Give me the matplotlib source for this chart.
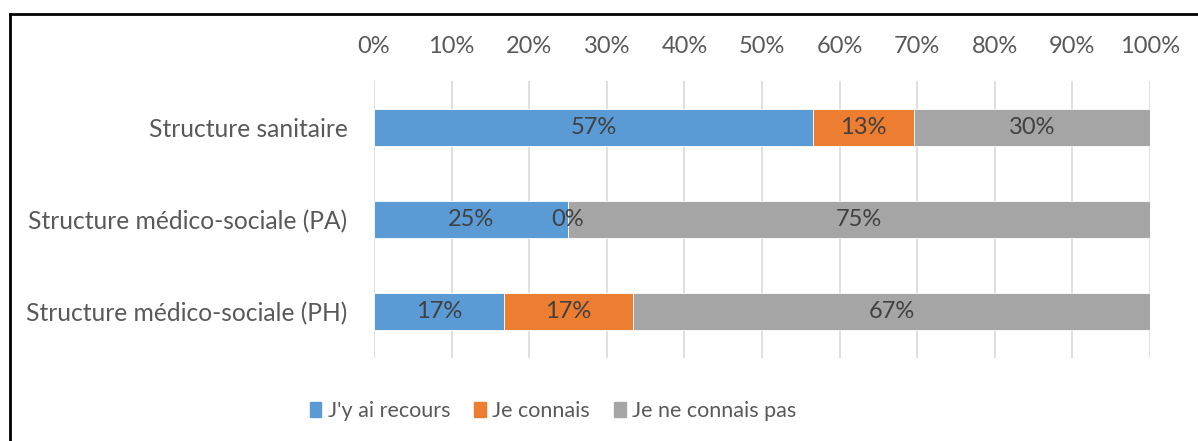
import matplotlib.pyplot as plt
from matplotlib.lines import Line2D

# Parts de réponses par type de structure (fractions)
categories = ["Structure sanitaire",
              "Structure médico-sociale (PA)",
              "Structure médico-sociale (PH)"]
series_names = ["J'y ai recours", "Je connais", "Je ne connais pas"]
recours = [0.566, 0.25, 0.167]
connais = [0.130, 0.0, 0.167]
connais_pas = [0.304, 0.75, 0.666]
ticks = [i / 10 for i in range(11)]

colors = ["#5B9BD5", "#ED7D31", "#A5A5A5"]

plt.rcParams["font.family"] = ["Lato", "DejaVu Sans"]

fig = plt.figure(figsize=(11.98, 4.41), dpi=100)
ax = fig.add_axes([374 / 1198, 1 - 358 / 441, 776 / 1198, 277 / 441])

pos = list(range(len(categories)))
left = [0.0] * len(categories)
for name, vals, col in zip(series_names, [recours, connais, connais_pas], colors):
    bars = ax.barh(pos, vals, left=left, height=0.4, color=col,
                   edgecolor="white", linewidth=0.6, label=name, zorder=3)
    for b, v in zip(bars, vals):
        ax.text(b.get_x() + b.get_width() / 2, b.get_y() + b.get_height() / 2,
                f"{v:.0%}", ha="center", va="center", fontsize=17,
                color="#404040", zorder=4)
    left = [l + v for l, v in zip(left, vals)]

ax.set_xlim(0, 1)
ax.set_ylim(2.5, -0.5)
ax.set_xticks(ticks)
ax.set_xticklabels([f"{t:.0%}" for t in ticks])
ax.set_yticks(pos)
ax.set_yticklabels(categories)
ax.xaxis.tick_top()
ax.tick_params(axis="x", length=0, pad=17, labelsize=17, labelcolor="#595959")
ax.tick_params(axis="y", length=0, pad=19, labelsize=17.7, labelcolor="#595959")
ax.grid(axis="x", color="#D9D9D9", linewidth=1.2, zorder=0)
for s in ax.spines.values():
    s.set_visible(False)

handles = [plt.Rectangle((0, 0), 1, 1, color=c) for c in colors]
fig.legend(handles, series_names, loc="center", ncol=3,
           bbox_to_anchor=(553 / 1198, 1 - 411 / 441), frameon=False,
           fontsize=15.5, labelcolor="#595959", handlelength=0.55,
           handleheight=0.7, handletextpad=0.3, columnspacing=1.1)

# cadre (bords gauche et haut)
fig.add_artist(Line2D([10 / 1198, 10 / 1198], [0, 1 - 14 / 441],
                      transform=fig.transFigure, color="black", linewidth=2))
fig.add_artist(Line2D([10 / 1198, 1], [1 - 14 / 441, 1 - 14 / 441],
                      transform=fig.transFigure, color="black", linewidth=2))

fig.savefig("out.png", dpi=100)
